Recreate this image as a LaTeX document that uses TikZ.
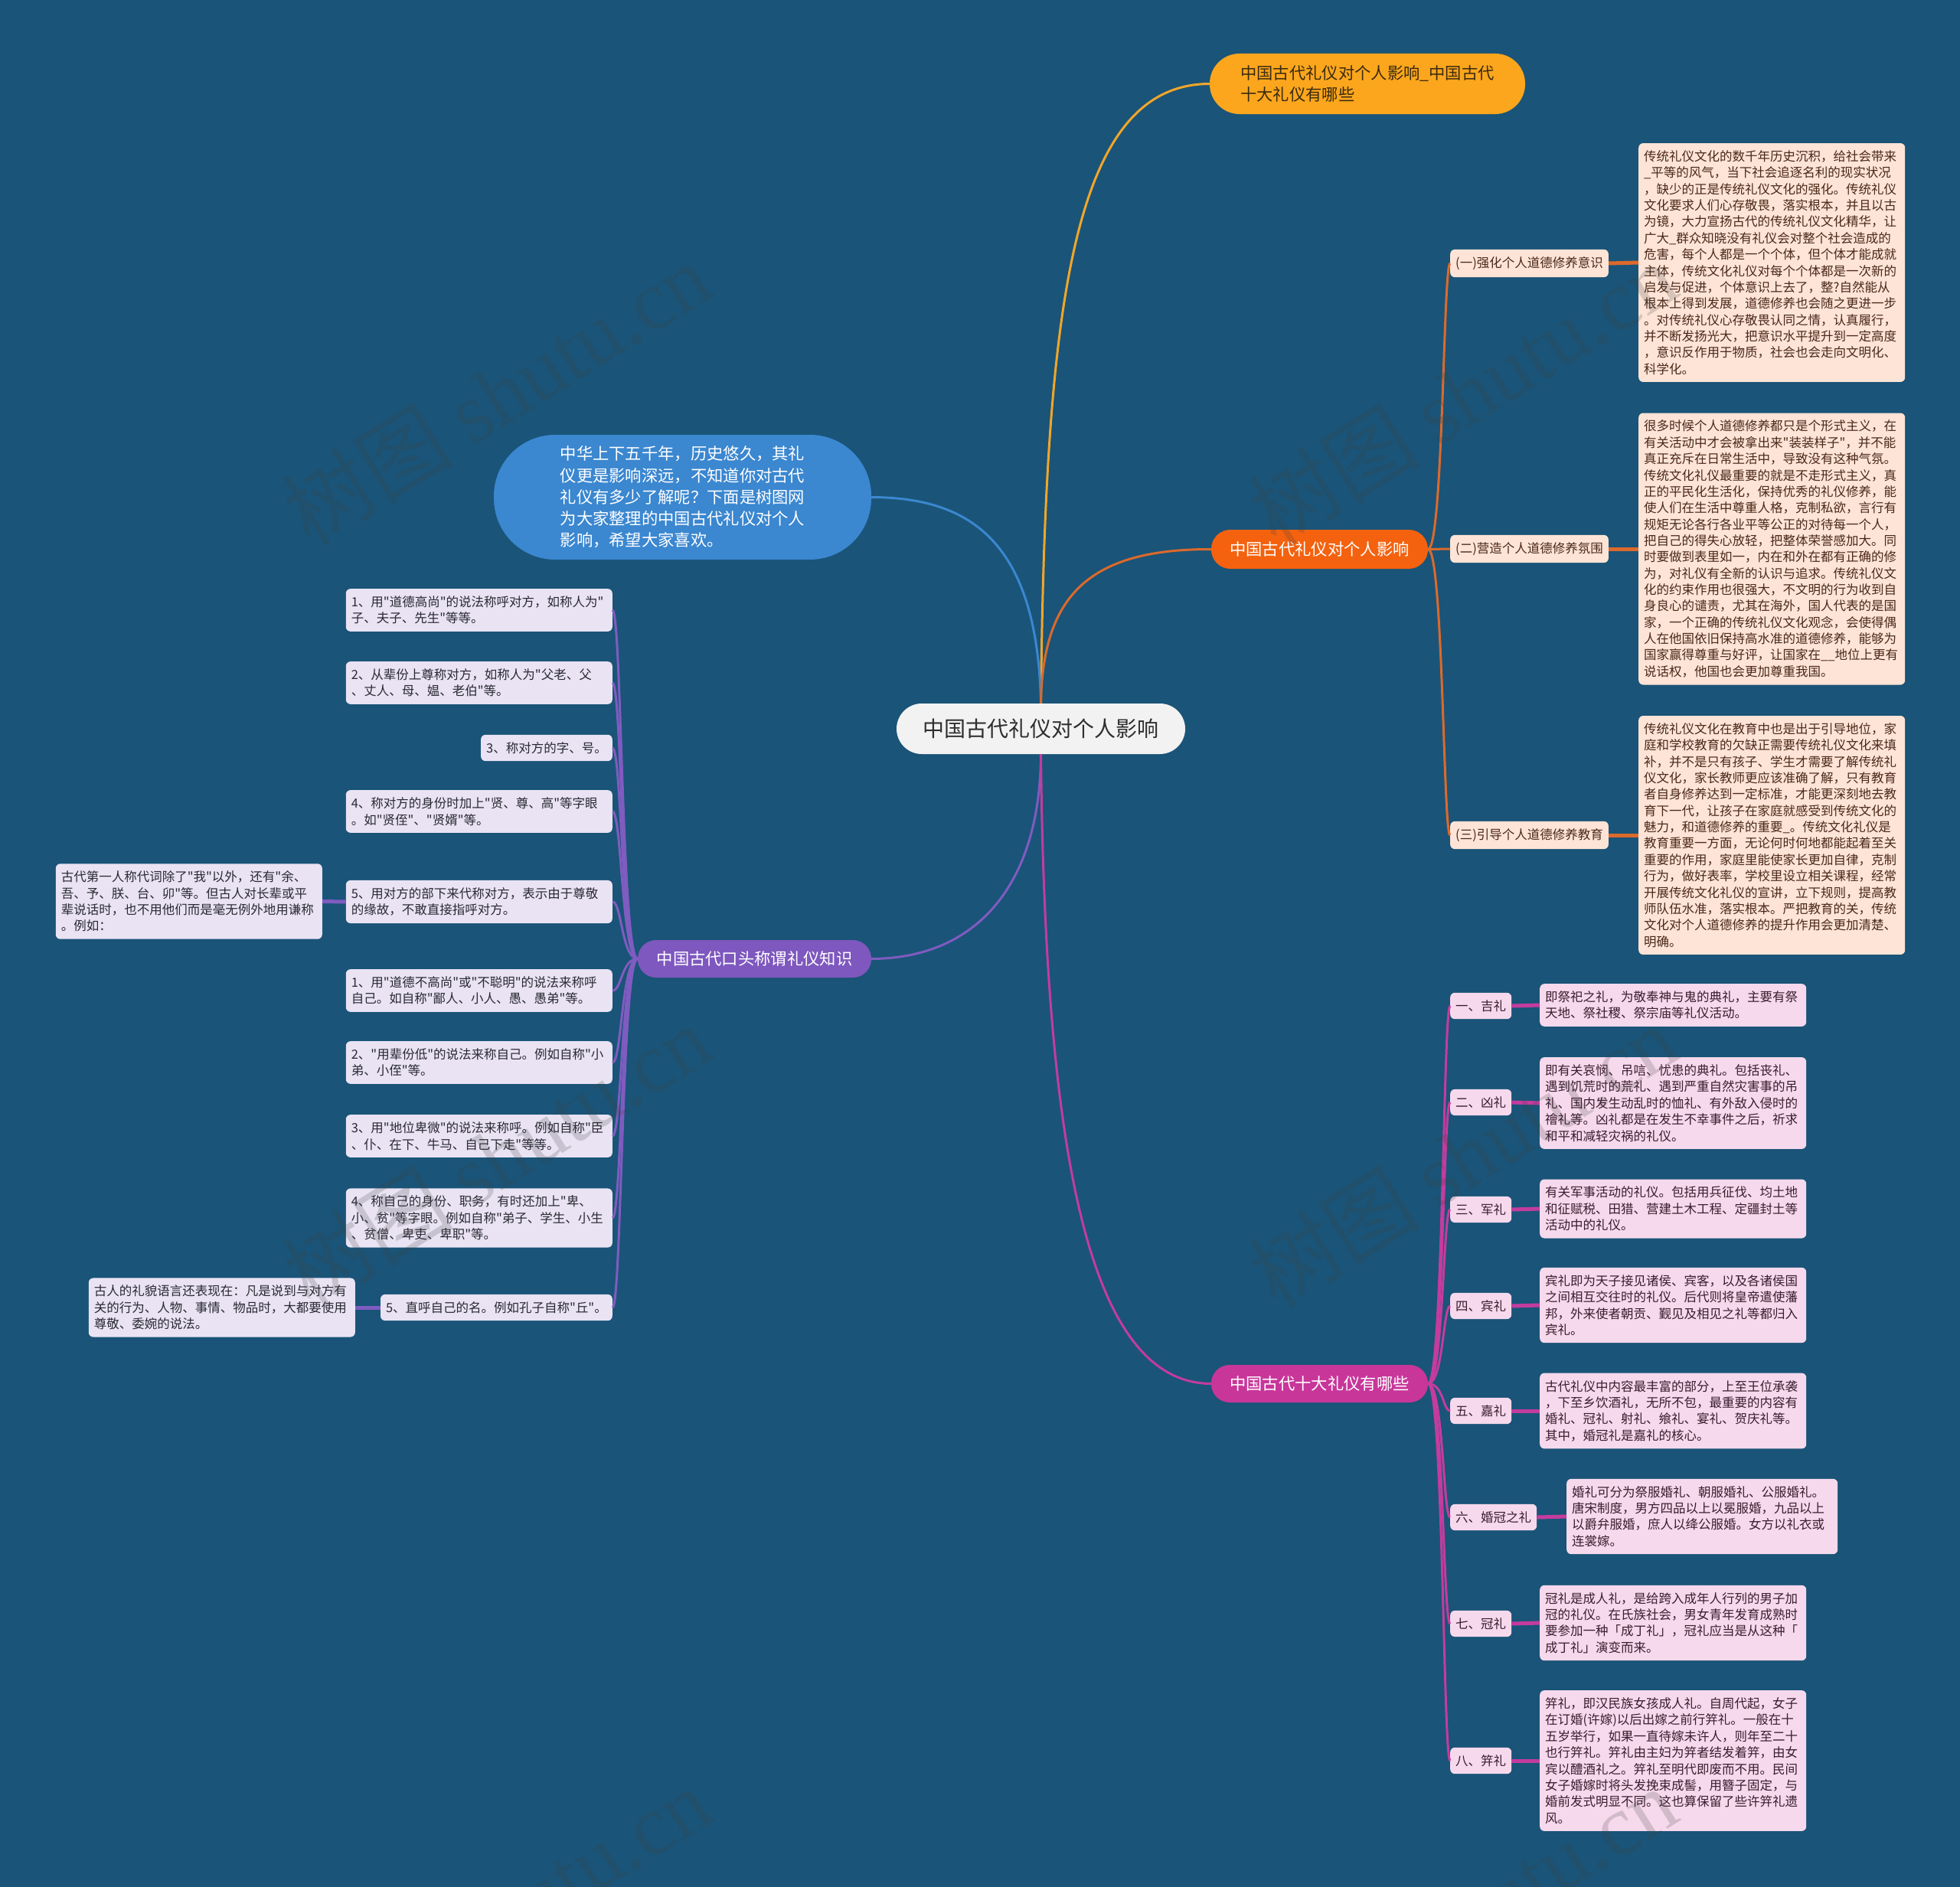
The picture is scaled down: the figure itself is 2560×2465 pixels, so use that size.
\documentclass[tikz,border=0pt]{standalone}
\usepackage{fontspec}
\setmainfont{Noto Sans CJK SC}[Ligatures=TeXOff]
\newfontfamily\wmlatin{Liberation Serif}
\usetikzlibrary{calc}
\definecolor{bgc}{HTML}{1A5478}
\definecolor{cfill}{HTML}{F2F2F2}
\definecolor{ctext}{HTML}{2E2E2E}
\definecolor{orng}{HTML}{FBA61D}
\definecolor{orngtext}{HTML}{3A2A10}
\definecolor{orngline}{HTML}{F0A62A}
\definecolor{bluen}{HTML}{3B87D0}
\definecolor{redn}{HTML}{F4620F}
\definecolor{redline}{HTML}{DB6A2C}
\definecolor{purpn}{HTML}{7E58BE}
\definecolor{purpline}{HTML}{7F5CC0}
\definecolor{magn}{HTML}{C8369A}
\definecolor{magline}{HTML}{C33C9E}
\definecolor{peach}{HTML}{FDE4D6}
\definecolor{peachtext}{HTML}{4A2818}
\definecolor{lav}{HTML}{E9E3F3}
\definecolor{lavtext}{HTML}{2A2A33}
\definecolor{pinkc}{HTML}{F6D9EC}
\definecolor{pinktext}{HTML}{3B1C30}
\definecolor{wmc}{HTML}{404040}
\newcommand\fsub{\fontsize{16.5}{21.35}\selectfont}
\newcommand\fone{\fontsize{21.3}{28.2}\selectfont}
\newcommand\fcent{\fontsize{28}{34}\selectfont}
\newcommand\fwm{\fontsize{112}{120}\selectfont}
\tikzset{
  pill/.style={inner sep=0pt, align=left},
  boxbase/.style={rounded corners=6pt, inner xsep=7pt, inner ysep=9.5pt, align=left, font=\fsub},
  peachbox/.style={boxbase, fill=peach, text=peachtext},
  lavbox/.style={boxbase, fill=lav, text=lavtext},
  pinkbox/.style={boxbase, fill=pinkc, text=pinktext},
  widebox/.style={text width=334pt},
  conn/.style={line width=3pt},
  linkline/.style={line width=5pt},
  wmark/.style={text=wmc, opacity=0.2, rotate=32, font=\fwm}
}
\begin{document}
\begin{tikzpicture}[x=1pt,y=-1pt]
\useasboundingbox (0,0) rectangle (2560,2465);
\fill[bgc] (0,0) rectangle (2560,2465);

% level 0 and 1
\node[pill, fill=cfill, text=ctext, font=\fcent, minimum width=377pt, minimum height=66pt, rounded corners=33pt] (root) at (1359.5,952) {中国古代礼仪对个人影响};
\node[pill, fill=orng, text=orngtext, font=\fone, minimum width=412pt, minimum height=79pt, rounded corners=39pt] (orange) at (1786,109.5) {中国古代礼仪对个人影响\_中国古代\\十大礼仪有哪些};
\node[pill, fill=bluen, text=white, font=\fone, minimum width=493pt, minimum height=163pt, rounded corners=80pt] (blue) at (891.5,649.5) {中华上下五千年，历史悠久，其礼\\仪更是影响深远，不知道你对古代\\礼仪有多少了解呢？下面是树图网\\为大家整理的中国古代礼仪对个人\\影响，希望大家喜欢。};
\node[pill, fill=redn, text=white, font=\fone, minimum width=283pt, minimum height=51pt, rounded corners=25pt] (red) at (1723.5,717.5) {中国古代礼仪对个人影响};
\node[pill, fill=purpn, text=white, font=\fone, minimum width=305pt, minimum height=49pt, rounded corners=24pt] (purp) at (985.5,1252.5) {中国古代口头称谓礼仪知识};
\node[pill, fill=magn, text=white, font=\fone, minimum width=283pt, minimum height=49pt, rounded corners=24pt] (mag) at (1723.5,1807.5) {中国古代十大礼仪有哪些};

% orange-red branch
\node[peachbox, anchor=west] (s1) at (1894,344) {(一)强化个人道德修养意识};
\node[peachbox, anchor=west] (s2) at (1894,717) {(二)营造个人道德修养氛围};
\node[peachbox, anchor=west] (s3) at (1894,1091) {(三)引导个人道德修养教育};
\node[peachbox, widebox, anchor=west] (t1) at (2140,343) {传统礼仪文化的数千年历史沉积，给社会带来\\\_平等的风气，当下社会追逐名利的现实状况\\，缺少的正是传统礼仪文化的强化。传统礼仪\\文化要求人们心存敬畏，落实根本，并且以古\\为镜，大力宣扬古代的传统礼仪文化精华，让\\广大\_群众知晓没有礼仪会对整个社会造成的\\危害，每个人都是一个个体，但个体才能成就\\主体，传统文化礼仪对每个个体都是一次新的\\启发与促进，个体意识上去了，整?自然能从\\根本上得到发展，道德修养也会随之更进一步\\。对传统礼仪心存敬畏认同之情，认真履行，\\并不断发扬光大，把意识水平提升到一定高度\\，意识反作用于物质，社会也会走向文明化、\\科学化。};
\node[peachbox, widebox, anchor=west] (t2) at (2140,717) {很多时候个人道德修养都只是个形式主义，在\\有关活动中才会被拿出来"装装样子"，并不能\\真正充斥在日常生活中，导致没有这种气氛。\\传统文化礼仪最重要的就是不走形式主义，真\\正的平民化生活化，保持优秀的礼仪修养，能\\使人们在生活中尊重人格，克制私欲，言行有\\规矩无论各行各业平等公正的对待每一个人，\\把自己的得失心放轻，把整体荣誉感加大。同\\时要做到表里如一，内在和外在都有正确的修\\为，对礼仪有全新的认识与追求。传统礼仪文\\化的约束作用也很强大，不文明的行为收到自\\身良心的谴责，尤其在海外，国人代表的是国\\家，一个正确的传统礼仪文化观念，会使得偶\\人在他国依旧保持高水准的道德修养，能够为\\国家赢得尊重与好评，让国家在\_\_地位上更有\\说话权，他国也会更加尊重我国。};
\node[peachbox, widebox, anchor=west] (t3) at (2140,1091) {传统礼仪文化在教育中也是出于引导地位，家\\庭和学校教育的欠缺正需要传统礼仪文化来填\\补，并不是只有孩子、学生才需要了解传统礼\\仪文化，家长教师更应该准确了解，只有教育\\者自身修养达到一定标准，才能更深刻地去教\\育下一代，让孩子在家庭就感受到传统文化的\\魅力，和道德修养的重要\_。传统文化礼仪是\\教育重要一方面，无论何时何地都能起着至关\\重要的作用，家庭里能使家长更加自律，克制\\行为，做好表率，学校里设立相关课程，经常\\开展传统文化礼仪的宣讲，立下规则，提高教\\师队伍水准，落实根本。严把教育的关，传统\\文化对个人道德修养的提升作用会更加清楚、\\明确。};

% purple branch
\node[lavbox, widebox, anchor=east] (l1) at (800,797) {1、用"道德高尚"的说法称呼对方，如称人为"\\子、夫子、先生"等等。};
\node[lavbox, widebox, anchor=east] (l2) at (800,892) {2、从辈份上尊称对方，如称人为"父老、父\\、丈人、母、媪、老伯"等。};
\node[lavbox, anchor=east] (l3) at (800,977) {3、称对方的字、号。};
\node[lavbox, widebox, anchor=east] (l4) at (800,1060) {4、称对方的身份时加上"贤、尊、高"等字眼\\。如"贤侄"、"贤婿"等。};
\node[lavbox, widebox, anchor=east] (l5) at (800,1178) {5、用对方的部下来代称对方，表示由于尊敬\\的缘故，不敢直接指呼对方。};
\node[lavbox, widebox, anchor=east] (l6) at (800,1294) {1、用"道德不高尚"或"不聪明"的说法来称呼\\自己。如自称"鄙人、小人、愚、愚弟"等。};
\node[lavbox, widebox, anchor=east] (l7) at (800,1388) {2、"用辈份低"的说法来称自己。例如自称"小\\弟、小侄"等。};
\node[lavbox, widebox, anchor=east] (l8) at (800,1484) {3、用"地位卑微"的说法来称呼。例如自称"臣\\、仆、在下、牛马、自己下走"等等。};
\node[lavbox, widebox, anchor=east] (l9) at (800,1591) {4、称自己的身份、职务，有时还加上"卑、\\小、贫"等字眼。例如自称"弟子、学生、小生\\、贫僧、卑吏、卑职"等。};
\node[lavbox, anchor=east] (l10) at (800,1708) {5、直呼自己的名。例如孔子自称"丘"。};
\node[lavbox, widebox, anchor=east] (na) at (421,1177.5) {古代第一人称代词除了"我"以外，还有"余、\\吾、予、朕、台、卯"等。但古人对长辈或平\\辈说话时，也不用他们而是毫无例外地用谦称\\。例如：};
\node[lavbox, widebox, anchor=east] (nb) at (464,1708) {古人的礼貌语言还表现在：凡是说到与对方有\\关的行为、人物、事情、物品时，大都要使用\\尊敬、委婉的说法。};

% magenta branch
\node[pinkbox, anchor=west] (m1) at (1894,1314) {一、吉礼};
\node[pinkbox, anchor=west] (m2) at (1894,1440) {二、凶礼};
\node[pinkbox, anchor=west] (m3) at (1894,1580) {三、军礼};
\node[pinkbox, anchor=west] (m4) at (1894,1706) {四、宾礼};
\node[pinkbox, anchor=west] (m5) at (1894,1843) {五、嘉礼};
\node[pinkbox, anchor=west] (m6) at (1894,1982) {六、婚冠之礼};
\node[pinkbox, anchor=west] (m7) at (1894,2121) {七、冠礼};
\node[pinkbox, anchor=west] (m8) at (1894,2300) {八、笄礼};
\node[pinkbox, widebox, anchor=west] (d1) at (2011,1313) {即祭祀之礼，为敬奉神与鬼的典礼，主要有祭\\天地、祭社稷、祭宗庙等礼仪活动。};
\node[pinkbox, widebox, anchor=west] (d2) at (2011,1441) {即有关哀悯、吊唁、忧患的典礼。包括丧礼、\\遇到饥荒时的荒礼、遇到严重自然灾害事的吊\\礼、国内发生动乱时的恤礼、有外敌入侵时的\\禬礼等。凶礼都是在发生不幸事件之后，祈求\\和平和减轻灾祸的礼仪。};
\node[pinkbox, widebox, anchor=west] (d3) at (2011,1579) {有关军事活动的礼仪。包括用兵征伐、均土地\\和征赋税、田猎、营建土木工程、定疆封土等\\活动中的礼仪。};
\node[pinkbox, widebox, anchor=west] (d4) at (2011,1705) {宾礼即为天子接见诸侯、宾客，以及各诸侯国\\之间相互交往时的礼仪。后代则将皇帝遣使藩\\邦，外来使者朝贡、觐见及相见之礼等都归入\\宾礼。};
\node[pinkbox, widebox, anchor=west] (d5) at (2011,1843) {古代礼仪中内容最丰富的部分，上至王位承袭\\，下至乡饮酒礼，无所不包，最重要的内容有\\婚礼、冠礼、射礼、飨礼、宴礼、贺庆礼等。\\其中，婚冠礼是嘉礼的核心。};
\node[pinkbox, text width=340pt, anchor=west] (d6) at (2046,1981) {婚礼可分为祭服婚礼、朝服婚礼、公服婚礼。\\唐宋制度，男方四品以上以冕服婚，九品以上\\以爵弁服婚，庶人以绛公服婚。女方以礼衣或\\连裳嫁。};
\node[pinkbox, widebox, anchor=west] (d7) at (2011,2120) {冠礼是成人礼，是给跨入成年人行列的男子加\\冠的礼仪。在氏族社会，男女青年发育成熟时\\要参加一种「成丁礼」，冠礼应当是从这种「\\成丁礼」演变而来。};
\node[pinkbox, widebox, anchor=west] (d8) at (2011,2300) {笄礼，即汉民族女孩成人礼。自周代起，女子\\在订婚(许嫁)以后出嫁之前行笄礼。一般在十\\五岁举行，如果一直待嫁未许人，则年至二十\\也行笄礼。笄礼由主妇为笄者结发着笄，由女\\宾以醴酒礼之。笄礼至明代即废而不用。民间\\女子婚嫁时将头发挽束成髻，用簪子固定，与\\婚前发式明显不同。这也算保留了些许笄礼遗\\风。};

% level-1 connectors
\draw[conn, orngline] (root.north) .. controls (1365,400) and (1400,110) .. (orange.west);
\draw[conn, bluen] (root.north) .. controls (1355,700) and (1260,650) .. (blue.east);
\draw[conn, redline] (root.north) .. controls (1362,780) and (1420,717) .. (red.west);
\draw[conn, purpline] (root.south) .. controls (1359,1150) and (1280,1252) .. (purp.east);
\draw[conn, magline] (root.south) .. controls (1365,1500) and (1420,1807) .. (mag.west);

% orange-red sub connectors
\draw[conn, redline] (red.east) .. controls (1885,717) and (1885,344) .. (s1.west);
\draw[conn, redline] (red.east) -- (s2.west);
\draw[conn, redline] (red.east) .. controls (1885,717) and (1885,1091) .. (s3.west);
\draw[linkline, redline] (s1.east) -- (t1.west);
\draw[linkline, redline] (s2.east) -- (t2.west);
\draw[linkline, redline] (s3.east) -- (t3.west);

% purple sub connectors
\foreach \n/\yy in {l1/797, l2/892, l3/977, l4/1060, l5/1178, l6/1294, l7/1388, l8/1484, l9/1591, l10/1708}{
  \draw[conn, purpline] (purp.west) .. controls (812,1252) and (812,\yy) .. (\n.east);
}
\draw[linkline, purpline] (l5.west) -- (na.east);
\draw[linkline, purpline] (l10.west) -- (nb.east);

% magenta sub connectors
\foreach \n/\yy in {m1/1314, m2/1440, m3/1580, m4/1706, m5/1843, m6/1982, m7/2121, m8/2300}{
  \draw[conn, magline] (mag.east) .. controls (1885,1807) and (1885,\yy) .. (\n.west);
}
\draw[linkline, magline] (m1.east) -- (d1.west);
\draw[linkline, magline] (m2.east) -- (d2.west);
\draw[linkline, magline] (m3.east) -- (d3.west);
\draw[linkline, magline] (m4.east) -- (d4.west);
\draw[linkline, magline] (m5.east) -- (d5.west);
\draw[linkline, magline] (m6.east) -- (d6.west);
\draw[linkline, magline] (m7.east) -- (d7.west);
\draw[linkline, magline] (m8.east) -- (d8.west);

% watermarks
\node[wmark] (w1) at (648,514) {树图 {\wmlatin shutu.cn}};
\node[wmark] (w2) at (1910,514) {树图 {\wmlatin shutu.cn}};
\node[wmark] (w3) at (648,1510) {树图 {\wmlatin shutu.cn}};
\node[wmark] (w4) at (1910,1510) {树图 {\wmlatin shutu.cn}};
\node[wmark] (w5) at (648,2506) {树图 {\wmlatin shutu.cn}};
\node[wmark] (w6) at (1910,2506) {树图 {\wmlatin shutu.cn}};
\end{tikzpicture}
\end{document}
